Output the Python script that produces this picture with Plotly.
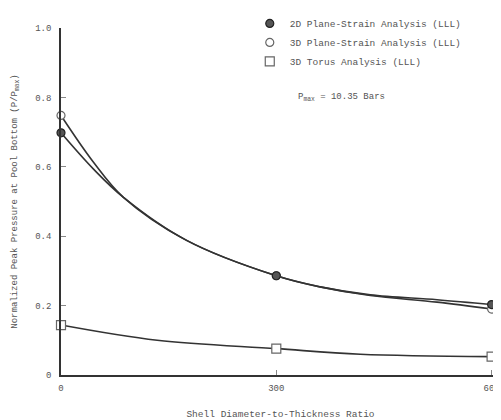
import plotly.graph_objects as go

# ---- data ----
x_pts = [0, 300, 600]
y_2d_pts = [0.698, 0.286, 0.203]
y_3d_pts = [0.748, 0.286, 0.190]
y_torus_pts = [0.144, 0.076, 0.053]

# curve traces
x_curve = [0, 45, 87, 175, 300, 361, 431, 524, 600]
y_2d_curve = [0.698, 0.594, 0.512, 0.388, 0.286, 0.254, 0.231, 0.217, 0.203]
y_3d_curve = [0.748, 0.614, 0.512, 0.388, 0.286, 0.254, 0.229, 0.210, 0.190]
x_torus_curve = [0, 134, 300, 417, 600]
y_torus_curve = [0.144, 0.100, 0.076, 0.060, 0.053]

series_names = ["2D Plane-Strain Analysis (LLL)",
                "3D Plane-Strain Analysis (LLL)",
                "3D Torus Analysis (LLL)"]

y_tickvals = [0, 0.2, 0.4, 0.6, 0.8, 1.0]
y_ticktext = ["0", "0.2", "0.4", "0.6", "0.8", "1.0"]
x_tickvals = [0, 300, 600]
x_ticktext = ["0", "300", "600"]

FONT = "Liberation Mono"
TXT = "#555555"
LINE = "#333333"

fig = go.Figure()

for xc, yc in [(x_curve, y_2d_curve), (x_curve, y_3d_curve), (x_torus_curve, y_torus_curve)]:
    fig.add_trace(go.Scatter(x=xc, y=yc, mode="lines", showlegend=False,
                             line=dict(color=LINE, width=1.6, shape="spline", smoothing=1.0),
                             hoverinfo="skip", cliponaxis=False))

fig.add_trace(go.Scatter(x=x_pts, y=y_3d_pts, mode="markers", name=series_names[1],
                         legendrank=2,
                         marker=dict(symbol="circle", size=8, color="white",
                                     line=dict(color="#666666", width=1.2)),
                         cliponaxis=False))
fig.add_trace(go.Scatter(x=x_pts, y=y_2d_pts, mode="markers", name=series_names[0],
                         legendrank=1,
                         marker=dict(symbol="circle", size=8, color="#555555",
                                     line=dict(color="#222222", width=1.2)),
                         cliponaxis=False))
fig.add_trace(go.Scatter(x=x_pts, y=y_torus_pts, mode="markers", name=series_names[2],
                         legendrank=3,
                         marker=dict(symbol="square", size=9, color="white",
                                     line=dict(color="#666666", width=1.2)),
                         cliponaxis=False))

# page body adds an 8px offset; margins compensate so the plot lands where the reference has it
fig.update_layout(
    width=493, height=412,
    margin=dict(l=53, r=1, t=6, b=45),
    paper_bgcolor="white", plot_bgcolor="white",
    font=dict(family=FONT, size=9, color=TXT),
    legend=dict(x=0.43, y=1.055, xanchor="left", yanchor="top",
                font=dict(family=FONT, size=9.5, color=TXT),
                traceorder="normal", itemwidth=30, tracegroupgap=0,
                bgcolor="rgba(0,0,0,0)"),
    xaxis=dict(range=[0, 611.7], showgrid=False, zeroline=False, automargin=False,
               showline=True, linecolor=LINE, linewidth=1.6,
               tickvals=x_tickvals, ticktext=x_ticktext,
               ticks="inside", ticklen=5, tickcolor="#888888",
               ticklabelstandoff=3,
               tickfont=dict(family=FONT, size=9, color=TXT),
               title=dict(text="Shell Diameter-to-Thickness Ratio",
                          font=dict(family=FONT, size=9.5, color=TXT), standoff=18)),
    yaxis=dict(range=[0, 1.0], showgrid=False, zeroline=False, automargin=False,
               showline=True, linecolor=LINE, linewidth=1.6,
               tickvals=y_tickvals, ticktext=y_ticktext,
               ticks="inside", ticklen=5, tickcolor="#888888",
               ticklabelstandoff=6,
               tickfont=dict(family=FONT, size=9, color=TXT),
               title=dict(text="Normalized Peak Pressure at Pool Bottom (P/P<sub>max</sub>)",
                          font=dict(family=FONT, size=9, color=TXT), standoff=16)),
)

fig.add_annotation(text="P<sub>max</sub> = 10.35 Bars", xref="paper", yref="paper",
                   x=0.535, y=0.80, xanchor="left", yanchor="middle", showarrow=False,
                   font=dict(family=FONT, size=9, color=TXT))

fig.write_html("out.html")
